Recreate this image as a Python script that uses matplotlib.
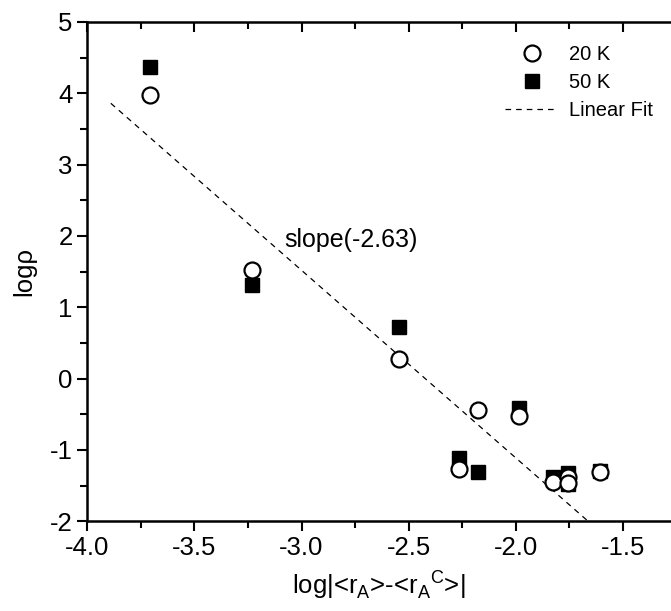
import numpy as np
import matplotlib.pyplot as plt
from matplotlib.ticker import MultipleLocator

plt.rcParams['font.family'] = ['Liberation Sans', 'DejaVu Sans']
plt.rcParams['axes.unicode_minus'] = False

# Data
x_20k = [-3.706, -3.23, -2.545, -2.176, -1.985, -2.265, -1.826, -1.757, -1.757, -1.607]
y_20k = [3.98, 1.52, 0.28, -0.44, -0.53, -1.27, -1.45, -1.38, -1.46, -1.31]

x_50k = [-3.706, -3.23, -2.545, -1.985, -2.265, -2.176, -1.826, -1.757, -1.757, -1.607]
y_50k = [4.37, 1.31, 0.72, -0.41, -1.12, -1.31, -1.38, -1.33, -1.48, -1.30]

fit_x = [-3.89, -1.663]
fit_y = [3.86, -2.0]

fig = plt.figure(figsize=(6.71, 6.11), dpi=100)
ax = fig.add_axes([0.130, 0.147, 0.870, 0.817])

ax.plot(x_50k, y_50k, 's', color='black', markersize=10, label='50 K', zorder=3)
ax.plot(x_20k, y_20k, 'o', markerfacecolor='white', markeredgecolor='black',
        markeredgewidth=1.6, markersize=11.5, label='20 K', zorder=4)
ax.plot(fit_x, fit_y, '--', color='black', linewidth=0.9, dashes=(4.5, 4),
        label='Linear Fit', zorder=2)

ax.text(-2.77, 1.94, 'slope(-2.63)', fontsize=18, ha='center', va='center')

# Axis limits and ticks
ax.set_xlim(-4.0, -1.276)
ax.set_ylim(-2, 5)
ax.xaxis.set_major_locator(MultipleLocator(0.5))
ax.xaxis.set_minor_locator(MultipleLocator(0.25))
ax.yaxis.set_major_locator(MultipleLocator(1))
ax.yaxis.set_minor_locator(MultipleLocator(0.5))
ax.xaxis.set_major_formatter(plt.FuncFormatter(lambda v, p: f'{v:.1f}'))

ax.tick_params(axis='both', which='both', direction='out', width=1.5,
               labelsize=18.5, top=True, right=False)
ax.tick_params(axis='both', which='major', length=7)
ax.tick_params(axis='both', which='minor', length=5)
# top ticks point inward
for t in ax.xaxis.get_major_ticks() + ax.xaxis.get_minor_ticks():
    t.tick2line.set_marker(3)

for s in ['left', 'bottom', 'top']:
    ax.spines[s].set_linewidth(1.8)
ax.spines['right'].set_visible(False)

ax.set_xlabel(r'log|<r$_\mathregular{A}$>-<r$_\mathregular{A}$$^\mathregular{C}$>|', fontsize=18.5, labelpad=6)
ax.set_ylabel('logρ', fontsize=18.5, labelpad=10)

# Legend
h, l = ax.get_legend_handles_labels()
order = [1, 0, 2]
ax.legend([h[i] for i in order], [l[i] for i in order], loc='upper right',
          bbox_to_anchor=(1.0, 0.99), frameon=False, fontsize=14.5,
          handlelength=2.6, handletextpad=0.55, labelspacing=0.45)

fig.savefig('out.png', dpi=100)
